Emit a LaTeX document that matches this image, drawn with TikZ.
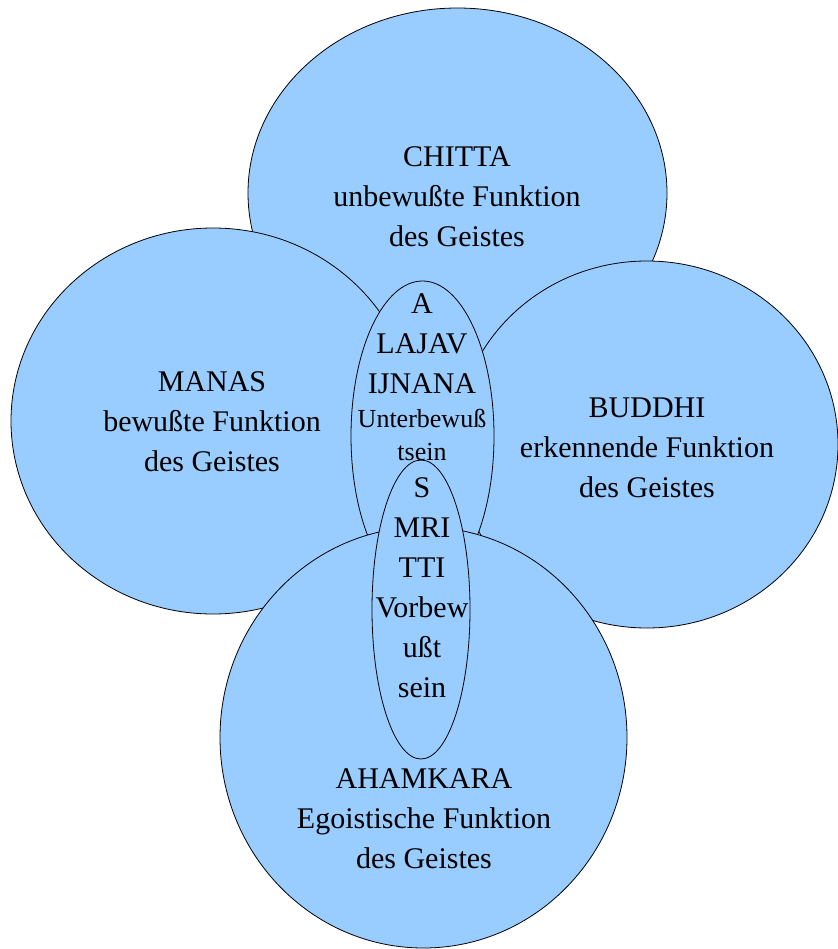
\documentclass[tikz,border=0pt]{standalone}
\usepackage{fontspec}
\setmainfont{Liberation Serif}
\definecolor{bubblue}{RGB}{153,204,255}
\def\subline{\fontsize{26}{33}\selectfont}

\begin{document}
\begin{tikzpicture}[x=1pt, y=-1pt,
		bubble/.style={fill=bubblue, draw=black, line width=0.8pt},
		caption/.style={align=center, inner sep=0pt, font=\fontsize{30}{40}\selectfont}]
			%%%%% START %%%%%
			
			\useasboundingbox (0, 0) rectangle (837, 949);
			
			\draw[bubble] (457.5, 193) ellipse (209.5 and 185);
			\draw[bubble] (213, 421) ellipse (202 and 193);
			\draw[bubble] (647, 444.5) ellipse (191 and 183.5);
			\draw[bubble] (422.5, 436) ellipse (71.5 and 155);
			\draw[bubble] (423.5, 737.5) ellipse (203.5 and 210.5);
			\draw[bubble] (421, 609.5) ellipse (49 and 149.5);
			
			\node[caption] (chitta) at (457, 197) {CHITTA\\unbewußte Funktion\\des Geistes};
			\node[caption] (manas) at (212, 422) {MANAS\\bewußte Funktion\\des Geistes};
			\node[caption] (buddhi) at (647, 447.5) {BUDDHI\\erkennende Funktion\\des Geistes};
			\node[caption] (ahamkara) at (424, 818.5) {AHAMKARA\\Egoistische Funktion\\des Geistes};
			
			\node[caption] (alaja) at (422, 377) {A\\LAJAV\\IJNANA\\[-6pt]\subline Unterbewuß\\[-7pt]\subline tsein};
			\node[caption] (smriti) at (422, 587.5) {S\\MRI\\TTI\\Vorbew\\ußt\\sein};
			
			%%%%% END %%%%%
		\end{tikzpicture}
\end{document}
